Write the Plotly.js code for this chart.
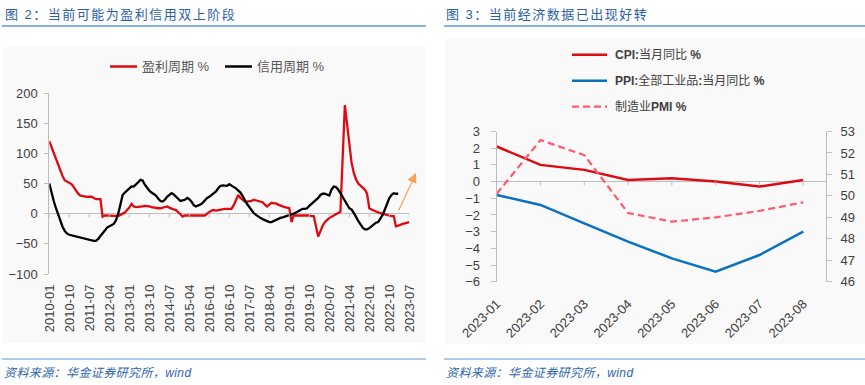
<!DOCTYPE html>
<html>
<head>
<meta charset="utf-8">
<script src="https://cdn.plot.ly/plotly-3.0.1.min.js"></script>
<style>
  html, body { margin:0; padding:0; background:#fff; overflow:hidden; }
  #wrap { position:relative; width:865px; height:385px; }
  #chart { position:absolute; left:0; top:0; width:865px; height:385px; }
  .ttl { position:absolute; font-family:"Liberation Sans","Noto Sans CJK SC",sans-serif; font-size:13px;
         line-height:16px; letter-spacing:1.5px; color:#2B5FA8; white-space:nowrap; z-index:10; }
  .src { position:absolute; font-family:"Liberation Sans","Noto Sans CJK SC",sans-serif; font-size:12px;
         line-height:16px; letter-spacing:0.4px; color:#2E64AE; font-style:italic; white-space:nowrap; z-index:10; }
</style>
</head>
<body>
<div id="wrap">
  <div id="chart"></div>
  <div class="ttl" id="t1" style="left:5px; top:7px;"></div>
  <div class="ttl" id="t2" style="left:446px; top:7px;"></div>
  <div class="src" id="s1" style="left:4px; top:365px;"></div>
  <div class="src" id="s2" style="left:446px; top:365px;"></div>
</div>
<script>
// ---------------- data ----------------
const titleLeft = "图 2：当前可能为盈利信用双上阶段";
const titleRight = "图 3：当前经济数据已出现好转";
const sourceText = "资料来源：华金证券研究所，wind";

// Left chart: monthly, starting 2010-01
const startYear = 2010;
const profitName = "盈利周期 %";
const creditName = "信用周期 %";
const profit = [
  120,110,100,90,80,70,62,55,53,51,
  49,44,38,33,30,29,28,28,28,28,
  26,24,24,24,-5,-3,-3,-3,-4,-4,
  -4,-4,-2,0,2,6,10,16,12,11,
  11,11,12,13,13,12,11,10,10,9,
  9,10,11,12,10,8,7,6,3,-1,
  -5,-3,-3,-3,-3,-3,-3,-3,-3,-3,
  -3,0,3,5,6,5,6,7,8,8,
  8,8,8,14,24,31,26,23,20,20,
  20,21,23,22,21,20,19,15,12,15,
  18,17,17,15,13,12,11,10,9,-14,
  -3,-3,-3,-2,-2,-3,-3,-3,-4,-4,
  null,-38,-28,-20,-14,-10,-7,-5,-3,0,
  2,3,null,180,145,110,85,68,57,50,
  47,44,40,33,9,7,5,3,2,1,
  0,-2,-3,-3,-4,-4,-21,-20,-18,-17,
  -16,-15,-14
];
const credit = [
  50,33,21,9,-2,-12,-22,-29,-33,-35,
  -36,-37,-38,-39,-40,-41,-42,-42,-43,-44,
  -45,-45,-42,-37,-33,-28,-23,-21,-20,-17,
  -11,0,15,31,35,38,42,45,45,48,
  52,56,55,48,42,38,35,33,30,25,
  21,20,23,28,31,34,32,28,24,21,
  22,23,26,24,20,14,12,13,15,18,
  22,26,28,31,33,37,42,46,47,47,
  46,49,46,44,42,38,35,29,22,16,
  11,5,1,-2,-5,-7,-9,-11,-13,-14,
  -14,-12,-10,-8,-7,-6,-5,-4,-3,-2,
  0,2,4,6,8,8,9,13,16,20,
  23,26,31,33,33,31,30,40,45,44,
  40,34,28,21,14,9,7,2,-5,-12,
  -18,-23,-26,-26,-24,-21,-17,-15,-14,-9,
  -2,7,17,26,31,34,33,33
];
const leftYTicks = [-100,-50,0,50,100,150,200];
const tickEvery = 9;

// Right chart
const months2023 = ["2023-01","2023-02","2023-03","2023-04","2023-05","2023-06","2023-07","2023-08"];
const cpiName = "CPI:当月同比 %";
const ppiName = "PPI:全部工业品:当月同比 %";
const pmiName = "制造业PMI %";
const cpi = [2.1,1.0,0.7,0.1,0.2,0.0,-0.3,0.1];
const ppi = [-0.8,-1.4,-2.5,-3.6,-4.6,-5.4,-4.4,-3.0];
const pmi = [50.1,52.6,51.9,49.2,48.8,49.0,49.3,49.7];

// ---------------- build ----------------
document.getElementById('t1').textContent = titleLeft;
document.getElementById('t2').textContent = titleRight;
document.getElementById('s1').textContent = sourceText;
document.getElementById('s2').textContent = sourceText;

const W = 865, H = 385;
const px = x => x / W;
const py = y => 1 - y / H;

const monthLabels = [];
for (let i = 0; i < profit.length; i++) {
  const y = startYear + Math.floor(i / 12);
  const m = (i % 12) + 1;
  monthLabels.push(y + "-" + (m < 10 ? "0" + m : "" + m));
}
const tickIdx = [];
for (let i = 0; i < monthLabels.length; i += tickEvery) tickIdx.push(i);
const tickLabs = tickIdx.map(i => monthLabels[i]);

const RED = '#DE0A12', BLACK = '#000000', BLUE = '#0A70C0', PINK = '#FF5A6E';
const AX = '#BDBDBD';
const tickFont = {family:'Liberation Sans, Arial, sans-serif', size:13, color:'#404040'};
const legFont = {family:'Liberation Sans, Noto Sans CJK SC, sans-serif', size:13, color:'#595959'};
const legFont2 = {family:'Liberation Sans, Noto Sans CJK SC, sans-serif', size:12, color:'#404040'};

const traces = [
  {x: monthLabels, y: profit, type:'scatter', mode:'lines', name: profitName, connectgaps:true,
   line:{color:RED, width:2.3}, xaxis:'x', yaxis:'y', showlegend:false},
  {x: monthLabels.slice(0, credit.length), y: credit, type:'scatter', mode:'lines', name: creditName,
   line:{color:BLACK, width:2.3}, xaxis:'x', yaxis:'y', showlegend:false},
  {x: months2023, y: cpi, type:'scatter', mode:'lines', name: cpiName,
   line:{color:RED, width:2.5}, xaxis:'x2', yaxis:'y2', showlegend:false},
  {x: months2023, y: ppi, type:'scatter', mode:'lines', name: ppiName,
   line:{color:BLUE, width:2.5}, xaxis:'x2', yaxis:'y2', showlegend:false},
  {x: months2023, y: pmi, type:'scatter', mode:'lines', name: pmiName,
   line:{color:PINK, width:2.2, dash:'7px,4px'}, xaxis:'x2', yaxis:'y3', showlegend:false}
];

const shapes = [
  // panel backgrounds
  {type:'rect', xref:'paper', yref:'paper', x0:px(3), x1:px(426), y0:py(343), y1:py(47),
   fillcolor:'#F9F9F9', line:{width:0}, layer:'below'},
  {type:'rect', xref:'paper', yref:'paper', x0:px(445), x1:px(865), y0:py(344), y1:py(39),
   fillcolor:'#F9F9F9', line:{width:0}, layer:'below'},
  // title / source rules
  {type:'line', xref:'paper', yref:'paper', x0:px(2), x1:px(426), y0:py(26), y1:py(26), line:{color:'#5B9BD5', width:1.5}},
  {type:'line', xref:'paper', yref:'paper', x0:px(444), x1:px(865), y0:py(26), y1:py(26), line:{color:'#5B9BD5', width:1.5}},
  {type:'line', xref:'paper', yref:'paper', x0:px(2), x1:px(426), y0:py(359), y1:py(359), line:{color:'#5B9BD5', width:1.2}},
  {type:'line', xref:'paper', yref:'paper', x0:px(444), x1:px(865), y0:py(359), y1:py(359), line:{color:'#5B9BD5', width:1.2}},
  // left legend samples
  {type:'line', xref:'paper', yref:'paper', x0:px(110), x1:px(137), y0:py(66.5), y1:py(66.5), line:{color:RED, width:2.5}},
  {type:'line', xref:'paper', yref:'paper', x0:px(225), x1:px(252), y0:py(66.5), y1:py(66.5), line:{color:BLACK, width:2.5}},
  // right legend samples
  {type:'line', xref:'paper', yref:'paper', x0:px(572), x1:px(607), y0:py(54.7), y1:py(54.7), line:{color:RED, width:2.5}},
  {type:'line', xref:'paper', yref:'paper', x0:px(572), x1:px(607), y0:py(80.7), y1:py(80.7), line:{color:BLUE, width:2.5}},
  {type:'line', xref:'paper', yref:'paper', x0:px(572), x1:px(607), y0:py(106.7), y1:py(106.7), line:{color:PINK, width:2.2, dash:'7px,4px'}}
];
// tick marks on the zero lines
tickIdx.forEach(i => shapes.push({type:'line', xref:'x', yref:'y', ysizemode:'pixel', yanchor:0,
  x0:i, x1:i, y0:0, y1:-4, line:{color:AX, width:1}}));
months2023.forEach((c, i) => shapes.push({type:'line', xref:'x2', yref:'y2', ysizemode:'pixel', yanchor:0,
  x0:i, x1:i, y0:0, y1:-4, line:{color:AX, width:1}}));

const boldLatin = s => s.replace(/([A-Za-z%:]+)/g, '<b>$1</b>');
const annotations = [
  {xref:'paper', yref:'paper', x:px(140), y:py(66.5), xanchor:'left', yanchor:'middle', text:profitName, showarrow:false, font:legFont},
  {xref:'paper', yref:'paper', x:px(255), y:py(66.5), xanchor:'left', yanchor:'middle', text:creditName, showarrow:false, font:legFont},
  {xref:'paper', yref:'paper', x:px(613), y:py(54.7), xanchor:'left', yanchor:'middle', text:boldLatin(cpiName), showarrow:false, font:legFont2},
  {xref:'paper', yref:'paper', x:px(613), y:py(80.7), xanchor:'left', yanchor:'middle', text:boldLatin(ppiName), showarrow:false, font:legFont2},
  {xref:'paper', yref:'paper', x:px(613), y:py(106.7), xanchor:'left', yanchor:'middle', text:boldLatin(pmiName), showarrow:false, font:legFont2},
  // orange arrow
  {xref:'paper', yref:'paper', x:px(416), y:py(173), text:'', showarrow:true, ax:-18, ay:39,
   arrowhead:2, arrowsize:1.6, arrowwidth:1.2, arrowcolor:'#F4A15D', standoff:0, startstandoff:0}
];

const layout = {
  width: W, height: H, autosize:false,
  margin:{l:0, r:0, t:0, b:0, pad:0},
  paper_bgcolor:'#FFFFFF', plot_bgcolor:'rgba(0,0,0,0)',
  showlegend:false, hovermode:false,
  font:{family:'Liberation Sans, Noto Sans CJK SC, sans-serif'},
  xaxis:{type:'category', domain:[px(49.3), px(409.3)], range:[0, monthLabels.length - 1], anchor:'y',
    tickmode:'array', tickvals: tickLabs, ticktext: tickLabs, tickangle:-90,
    showline:false, showgrid:false, zeroline:false, ticks:'', tickfont:tickFont, ticklabelstandoff:7},
  yaxis:{domain:[py(274), py(93)], range:[-100, 200], tickmode:'array', tickvals:leftYTicks, anchor:'x',
    showline:true, linecolor:AX, linewidth:1, ticks:'outside', ticklen:4, tickcolor:AX,
    zeroline:true, zerolinecolor:AX, zerolinewidth:1, showgrid:false, tickfont:tickFont, ticklabelstandoff:4},
  xaxis2:{type:'category', domain:[px(496.7), px(826)], range:[0, months2023.length - 1 + 0.52], anchor:'y2',
    tickangle:-45, showline:false, showgrid:false, zeroline:false, ticks:'', tickfont:tickFont, ticklabelstandoff:11},
  yaxis2:{domain:[py(281.7), py(131.5)], range:[-6, 3], dtick:1, tick0:0, anchor:'x2',
    showline:true, linecolor:AX, linewidth:1, ticks:'outside', ticklen:5, tickcolor:AX,
    zeroline:true, zerolinecolor:AX, zerolinewidth:1, showgrid:false, tickfont:tickFont, ticklabelstandoff:8},
  yaxis3:{overlaying:'y2', side:'right', anchor:'x2', range:[46, 53], dtick:1, tick0:46,
    showline:true, linecolor:AX, linewidth:1, ticks:'outside', ticklen:5, tickcolor:AX,
    zeroline:false, showgrid:false, tickfont:tickFont, ticklabelstandoff:6},
  shapes: shapes,
  annotations: annotations
};

Plotly.newPlot('chart', traces, layout, {staticPlot:true, displayModeBar:false});
</script>
</body>
</html>
